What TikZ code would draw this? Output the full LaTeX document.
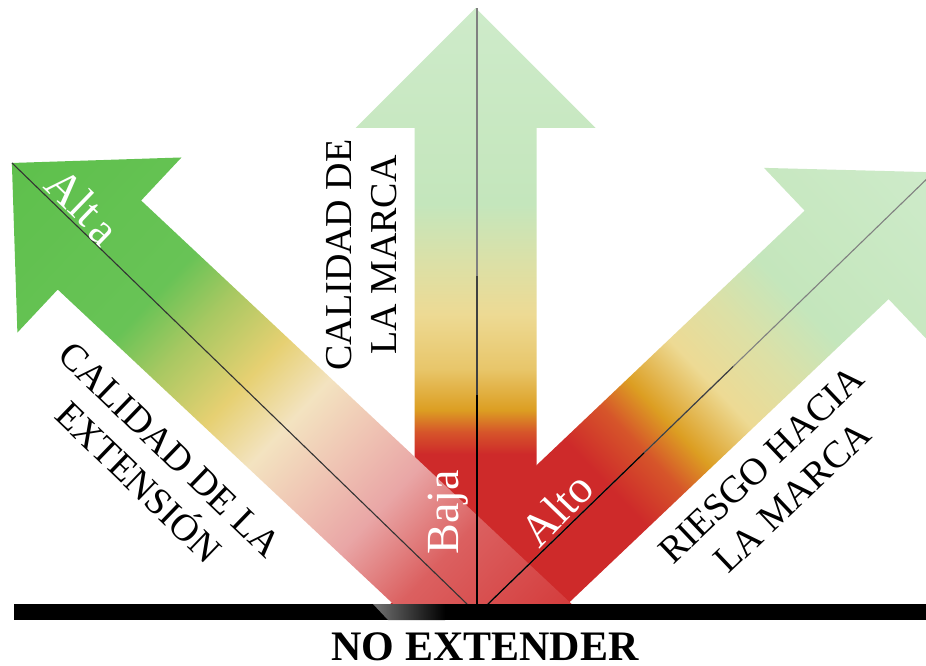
\documentclass[tikz,border=0pt]{standalone}
\usepackage{fontspec}
\setmainfont{Liberation Serif}
\usetikzlibrary{calc}

% palette
\definecolor{rojo}{HTML}{CE2A2A}
\definecolor{rojoNar}{HTML}{D6552A}
\definecolor{naranja}{HTML}{DC9E22}
\definecolor{ambar}{HTML}{E8C66A}
\definecolor{beige}{HTML}{EDDA94}
\definecolor{limon}{HTML}{DCE0A6}
\definecolor{verdeP}{HTML}{C4E6BC}
\definecolor{verdeQ}{HTML}{CEEBCA}
\definecolor{rojoL}{HTML}{D23232}
\definecolor{rosaO}{HTML}{DB6060}
\definecolor{rosa}{HTML}{E9A6A6}
\definecolor{rosaC}{HTML}{EFC3B3}
\definecolor{crema}{HTML}{F3E3C0}
\definecolor{amarillo}{HTML}{E6D072}
\definecolor{oliva}{HTML}{A8C862}
\definecolor{verde}{HTML}{68C356}
\definecolor{verdeF}{HTML}{5EC04C}

% colour runs along each arrow, measured from 100pt behind its foot
\pgfdeclarehorizontalshading{midshade}{260pt}{color(0pt)=(rojo); color(250pt)=(rojo);
  color(272pt)=(rojoNar); color(294pt)=(naranja); color(335pt)=(ambar);
  color(390pt)=(beige); color(440pt)=(limon); color(500pt)=(verdeP); color(700pt)=(verdeQ)}
\pgfdeclarehorizontalshading{rightshade}{260pt}{color(0pt)=(rojo); color(275pt)=(rojo);
  color(325pt)=(rojoNar); color(362pt)=(naranja); color(420pt)=(beige);
  color(480pt)=(limon); color(540pt)=(verdeP); color(730pt)=(verdeQ)}
\pgfdeclarehorizontalshading{leftshade}{260pt}{color(0pt)=(rojoL); color(160pt)=(rosaO);
  color(240pt)=(rosa); color(300pt)=(rosaC); color(365pt)=(crema); color(425pt)=(amarillo);
  color(495pt)=(oliva); color(550pt)=(verde); color(750pt)=(verdeF)}

% #1 foot, #2 direction, #3 length, #4 shading
\newcommand\gradarrow[4]{%
  \begin{scope}
    \clip (0,0) rectangle (926,604);
    \begin{scope}[transform canvas={shift={#1}, rotate=#2}]
      \clip (-100,-61) -- ({#3-120},-61) -- ({#3-120},-120) -- (#3,0)
        -- ({#3-120},120) -- ({#3-120},61) -- (-100,61) -- cycle;
      \node[inner sep=0pt, outer sep=0pt, anchor=west] (#4-fill) at (-100,0) {\pgfuseshading{#4}};
    \end{scope}
  \end{scope}}

\tikzset{
  whitelbl/.style={text=white, inner sep=0pt, font=\fontsize{46}{52}\selectfont},
  blacklbl/.style={text=black, inner sep=0pt, align=center, font=\fontsize{38}{45}\selectfont},
  axisline/.style={line width=1.1pt},
}

\begin{document}
\begin{tikzpicture}[x=1pt, y=-1pt]
  \useasboundingbox (0,0) rectangle (926,666);
  \fill[white] (0,0) rectangle (926,666);

  % the three arrows
  \gradarrow{(479,604)}{43.52}{627}{rightshade}
  \gradarrow{(475.5,604)}{90}{596}{midshade}
  \gradarrow{(482.5,604)}{136.86}{645}{leftshade}

  % axis lines
  \coordinate (ltip) at (12,163);
  \coordinate (lfoot) at (467,604);
  \coordinate (mtip) at (477,8);
  \coordinate (mfoot) at (477,604);
  \coordinate (rtip) at (933.7,172.3);
  \coordinate (rfoot) at (488,604);

  \draw[axisline, black!80] (lfoot) -- (ltip);
  \draw[axisline, black!50] (mfoot) -- (mtip);
  \draw[axisline, black!75] (mfoot) -- ($(mfoot)!0.55!(mtip)$);
  \draw[axisline, black] (mfoot) -- ($(mfoot)!0.35!(mtip)$);
  \draw[axisline, black!50] (rfoot) -- (rtip);
  \draw[axisline, black!75] (rfoot) -- ($(rfoot)!0.55!(rtip)$);
  \draw[axisline, black] (rfoot) -- ($(rfoot)!0.35!(rtip)$);

  % ground bar
  \fill[black] (14,604) rectangle (926,620);
  \shade[left color=black!55, right color=black] (373,604) -- (445,604) -- (445,620) -- (388,620) -- cycle;

  % labels
  \node[whitelbl, rotate=-44] (alta) at (83,207) {Alt\kern6pt\raisebox{-3pt}{a}};
  \node[whitelbl, rotate=90] (baja) at (448,512) {Baja};
  \node[whitelbl, rotate=46] (alto) at (557,509) {Alto};

  \node[blacklbl, rotate=-44] (ext) at (154,466) {CALIDAD DE LA\\EXTENSIÓN};
  \node[blacklbl, rotate=90] (marca) at (362,255) {CALIDAD DE\\LA MARCA};
  \node[blacklbl, rotate=43.5] (riesgo) at (777,481) {RIESGO HACIA\\LA MARCA};

  \node[anchor=base, inner sep=0pt, text depth=0pt, font=\bfseries\fontsize{42}{50}\selectfont] (noext) at (485,660) {NO EXTENDER};
\end{tikzpicture}
\end{document}
